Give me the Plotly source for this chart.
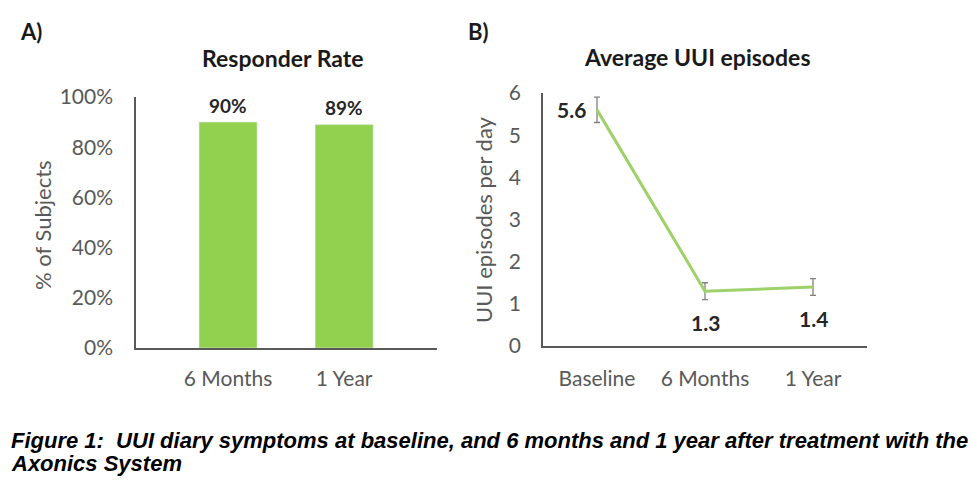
import plotly.graph_objects as go

W, H = 974, 487

# ---- data ----
resp_categories = ["6 Months", "1 Year"]
resp_values = [0.90, 0.89]
resp_labels = ["90%", "89%"]

uui_categories = ["Baseline", "6 Months", "1 Year"]
uui_values = [5.6, 1.3, 1.4]
uui_errors = [0.3, 0.2, 0.2]
uui_labels = ["5.6", "1.3", "1.4"]

pct_tickvals = [0, 0.2, 0.4, 0.6, 0.8, 1.0]
pct_ticktext = ["0%", "20%", "40%", "60%", "80%", "100%"]
uui_tickvals = [0, 1, 2, 3, 4, 5, 6]

FONT = "Lato"
GRAY = "#595959"
BAR_GREEN = "#92D050"
LINE_GREEN = "#9DD16A"


def px_x(p):
    return p / W


def px_y(p):
    return 1 - p / H


fig = go.Figure()

fig.add_trace(go.Bar(
    x=resp_categories, y=resp_values, marker_color=BAR_GREEN,
    width=0.5, xaxis="x", yaxis="y", showlegend=False,
))

fig.add_trace(go.Scatter(
    x=uui_categories, y=uui_values, mode="lines",
    line=dict(color=LINE_GREEN, width=3),
    error_y=dict(type="data", array=uui_errors, visible=True,
                 color="#808080", thickness=1.3, width=3),
    xaxis="x2", yaxis="y2", showlegend=False,
))

axis_common = dict(
    showgrid=False, zeroline=False, showline=True, linecolor=GRAY,
    linewidth=1.5, tickfont=dict(family=FONT, size=21, color=GRAY),
    ticks="", automargin=False,
)

fig.update_layout(
    width=W, height=H,
    margin=dict(l=0, r=0, t=0, b=0, pad=0, autoexpand=False),
    paper_bgcolor="white", plot_bgcolor="white",
    xaxis=dict(axis_common, domain=[px_x(136), px_x(437)],
               range=[-0.793, 1.80], type="category", ticklabelstandoff=11,
               anchor="y"),
    yaxis=dict(axis_common, domain=[px_y(348), px_y(97)], range=[0, 1.0],
               tickvals=pct_tickvals, ticktext=pct_ticktext,
               ticklabelstandoff=17, anchor="x"),
    xaxis2=dict(axis_common, domain=[px_x(543), px_x(867)],
                range=[-0.5, 2.5], type="category", ticklabelstandoff=13,
                anchor="y2"),
    yaxis2=dict(axis_common, domain=[px_y(346), px_y(93)], range=[0, 6],
                tickvals=uui_tickvals, ticklabelstandoff=16, anchor="x2"),
)

ann = []
# bar data labels
for c, v, t in zip(resp_categories, resp_values, resp_labels):
    ann.append(dict(x=c, y=v, xref="x", yref="y", text="<b>" + t + "</b>",
                    showarrow=False, yshift=17, xanchor="center", yanchor="middle",
                    font=dict(family=FONT, size=19, color="#262626")))
# line data labels
shifts = [(-26, 0), (0, -31), (0, -32)]
for (c, v, t), (dx, dy) in zip(zip(uui_categories, uui_values, uui_labels), shifts):
    ann.append(dict(x=c, y=v, xref="x2", yref="y2", text="<b>" + t + "</b>",
                    showarrow=False, xshift=dx, yshift=dy,
                    xanchor="center", yanchor="middle",
                    font=dict(family=FONT, size=21, color="#262626")))


def paper_text(xp, yp, text, size, color, angle=0, xanchor="center"):
    return dict(x=px_x(xp), y=px_y(yp), text=text, textangle=angle,
                xref="paper", yref="paper", showarrow=False,
                xanchor=xanchor, yanchor="middle",
                font=dict(family=FONT, size=size, color=color))


ann += [
    paper_text(283, 58, "<b>Responder Rate</b>", 23, "#1a1a1a"),
    paper_text(697, 57, "<b>Average UUI episodes</b>", 23, "#1a1a1a"),
    paper_text(31, 32, "<b>A)</b>", 22, "#1a1a1a"),
    paper_text(478, 31, "<b>B)</b>", 22, "#1a1a1a"),
    paper_text(42, 225, "% of Subjects", 22, GRAY, angle=-90),
    paper_text(483, 220, "UUI episodes per day", 22, GRAY, angle=-90),
]
cap1 = paper_text(9, 440, "<b><i>Figure 1:  UUI diary symptoms at baseline, and 6 months and 1 year after treatment with the</i></b>",
                  22, "black", xanchor="left")
cap2 = paper_text(9, 463, "<b><i>Axonics System</i></b>", 22, "black", xanchor="left")
for c in (cap1, cap2):
    c["font"]["family"] = "Liberation Sans, Arial"
ann += [cap1, cap2]

fig.update_layout(annotations=ann)
fig.write_html("out.html")
